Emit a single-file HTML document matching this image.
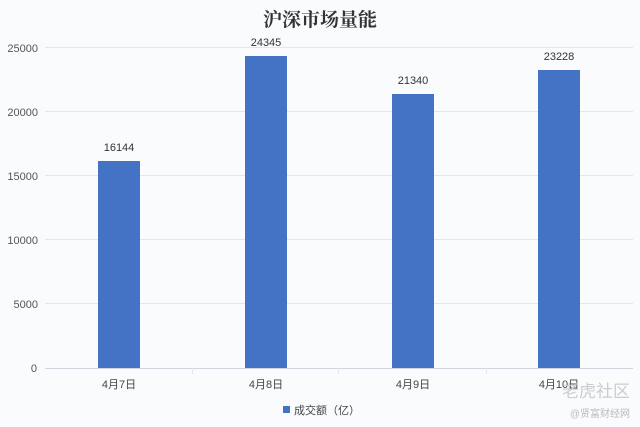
<!DOCTYPE html>
<html><head><meta charset="utf-8"><style>
body{margin:0;background:#fafbfd;}
svg{display:block;font-family:"Liberation Sans","Noto Sans CJK SC",sans-serif;}
</style></head><body>
<svg width="640" height="427" viewBox="0 0 640 427">
<rect width="640" height="427" fill="#fafbfd"/>
<text x="320" y="26" text-anchor="middle" font-family="'Noto Serif CJK SC',serif" font-size="19" font-weight="bold" fill="#333">沪深市场量能</text>
<g stroke="#e3e6ec" stroke-width="1">
<line x1="45" x2="633" y1="47.5" y2="47.5"/>
<line x1="45" x2="633" y1="111.5" y2="111.5"/>
<line x1="45" x2="633" y1="175.5" y2="175.5"/>
<line x1="45" x2="633" y1="239.5" y2="239.5"/>
<line x1="45" x2="633" y1="303.5" y2="303.5"/>
</g>
<line x1="45" x2="633" y1="368.5" y2="368.5" stroke="#d0d4dc"/>
<g stroke="#e3e6ec"><line x1="192.5" x2="192.5" y1="368" y2="374"/><line x1="338.5" x2="338.5" y1="368" y2="374"/><line x1="486.5" x2="486.5" y1="368" y2="374"/></g>
<g font-size="11" fill="#555" text-anchor="end">
<text x="38" y="52">25000</text><text x="38" y="116">20000</text><text x="38" y="180">15000</text>
<text x="38" y="244">10000</text><text x="38" y="308">5000</text><text x="37" y="372">0</text>
</g>
<g fill="#4472c4">
<rect x="98" y="161" width="42" height="207"/>
<rect x="245" y="56" width="42" height="312"/>
<rect x="392" y="94" width="42" height="274"/>
<rect x="538" y="70" width="42" height="298"/>
</g>
<g font-size="11" fill="#333" text-anchor="middle">
<text x="119" y="151">16144</text><text x="266" y="46">24345</text><text x="413" y="84">21340</text><text x="559" y="60">23228</text>
</g>
<g font-size="11" fill="#444" text-anchor="middle">
<text x="119" y="388">4月7日</text><text x="266" y="388">4月8日</text><text x="413" y="388">4月9日</text><text x="559" y="388">4月10日</text>
</g>
<rect x="283" y="406" width="7" height="7" fill="#4472c4"/>
<text x="294" y="414" font-size="11" fill="#444">成交额（亿）</text>
<text x="630" y="397" font-size="17" fill="#ccc" text-anchor="end">老虎社区</text>
<text x="630" y="417" font-size="10" fill="#bbb" text-anchor="end">@贤富财经网</text>
</svg>
</body></html>
